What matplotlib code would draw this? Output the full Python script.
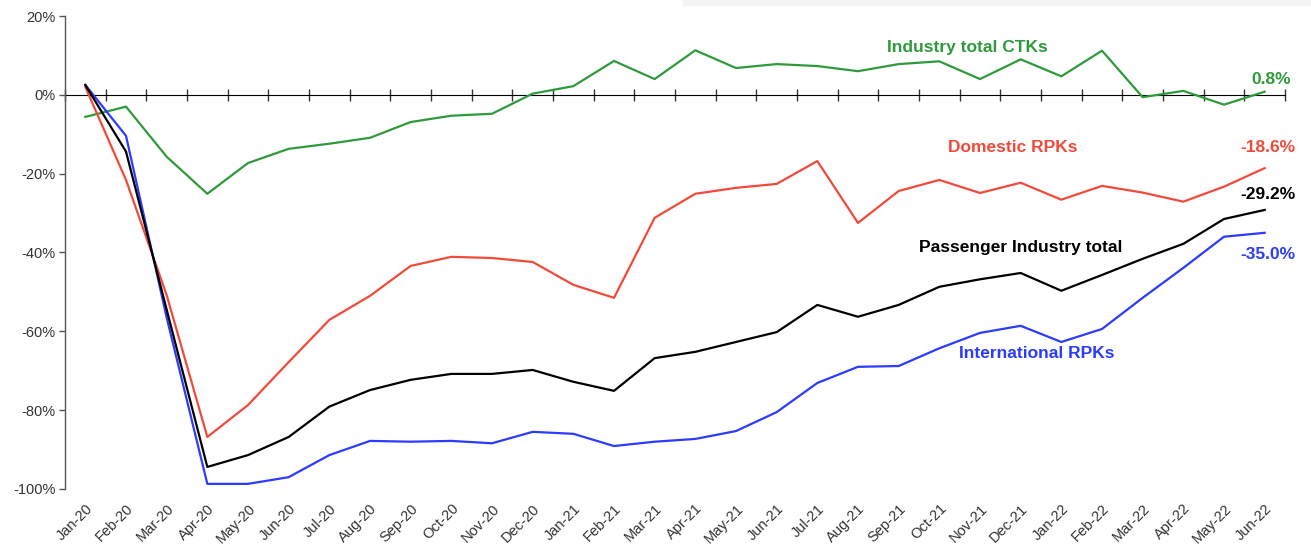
import matplotlib
matplotlib.use("Agg")
import matplotlib.pyplot as plt
from matplotlib.patches import Rectangle
import numpy as np

months = ["Jan-20", "Feb-20", "Mar-20", "Apr-20", "May-20", "Jun-20", "Jul-20", "Aug-20",
          "Sep-20", "Oct-20", "Nov-20", "Dec-20", "Jan-21", "Feb-21", "Mar-21", "Apr-21",
          "May-21", "Jun-21", "Jul-21", "Aug-21", "Sep-21", "Oct-21", "Nov-21", "Dec-21",
          "Jan-22", "Feb-22", "Mar-22", "Apr-22", "May-22", "Jun-22"]

ctk = [-5.6, -3.0, -15.7, -25.1, -17.3, -13.7, -12.4, -10.9, -6.9, -5.3, -4.8, 0.3,
       2.2, 8.6, 4.0, 11.3, 6.8, 7.8, 7.3, 6.0, 7.8, 8.5, 4.0, 9.0,
       4.7, 11.2, -0.6, 1.0, -2.5, 0.8]

domestic = [2.0, -21.6, -50.8, -86.8, -78.7, -67.8, -57.1, -51.0, -43.4, -41.1, -41.4, -42.4,
            -48.2, -51.5, -31.2, -25.1, -23.6, -22.6, -16.8, -32.5, -24.4, -21.6, -24.9, -22.3,
            -26.6, -23.1, -24.8, -27.1, -23.3, -18.6]

total = [2.5, -14.4, -54.5, -94.4, -91.4, -86.8, -79.1, -74.9, -72.3, -70.8, -70.8, -69.8,
         -72.8, -75.1, -66.8, -65.2, -62.7, -60.2, -53.3, -56.3, -53.3, -48.7, -46.8, -45.2,
         -49.7, -45.7, -41.6, -37.8, -31.5, -29.2]

international = [2.5, -10.4, -56.5, -98.7, -98.7, -97.0, -91.4, -87.8, -88.0, -87.8, -88.4, -85.5,
                 -86.0, -89.1, -88.0, -87.3, -85.3, -80.5, -73.1, -69.0, -68.8, -64.3, -60.4, -58.6,
                 -62.7, -59.4, -51.5, -43.9, -36.0, -35.0]

yticks = [20, 0, -20, -40, -60, -80, -100]
ytick_labels = ["20%", "0%", "-20%", "-40%", "-60%", "-80%", "-100%"]

GREEN = "#2f9a3b"
RED = "#f24a3a"
BLUE = "#2b3bff"
BLACK = "#000000"

plt.rcParams["font.family"] = ["Liberation Sans", "DejaVu Sans"]

fig = plt.figure(figsize=(13.11, 5.44), dpi=100)
fig.patches.append(Rectangle((683 / 1311, 1 - 5 / 544), 1 - 683 / 1311, 5 / 544,
                             transform=fig.transFigure, color="#f4f4f4", zorder=0))
ax = fig.add_axes([65 / 1311, 1 - 489 / 544, (1285 - 65) / 1311, (489 - 16) / 544])

x = np.arange(len(months))
lw = 1.6
ax.plot(x, ctk, color=GREEN, lw=lw, zorder=3)
ax.plot(x, domestic, color=RED, lw=lw, zorder=3)
ax.plot(x, international, color=BLUE, lw=lw, zorder=3)
ax.plot(x, total, color=BLACK, lw=lw, zorder=4)

ax.set_xlim(-0.5, len(months) - 0.5)
ax.set_ylim(-100, 20)

for s in ["top", "right", "bottom"]:
    ax.spines[s].set_visible(False)
ax.spines["left"].set_color("#555555")
ax.spines["left"].set_linewidth(1.0)

ax.set_yticks(yticks)
ax.set_yticklabels(ytick_labels)
ax.tick_params(axis="y", direction="out", length=4, width=1, color="#555555",
               labelsize=10.5, labelcolor="#333333", pad=3)

ax.set_xticks(x)
ax.set_xticklabels(months, rotation=45, ha="right", rotation_mode="anchor")
ax.tick_params(axis="x", length=0, labelsize=10.5, labelcolor="#333333", pad=9)

# zero axis line with category-boundary tick marks
sec = ax.secondary_xaxis(100 / 120)
sec.set_xticks(np.arange(len(months) + 1) - 0.5)
sec.set_xticklabels([])
sec.tick_params(axis="x", direction="inout", length=8, width=1, color="#333333")
sec.spines["bottom"].set_color("#333333")
sec.spines["bottom"].set_linewidth(1.0)

fw = "bold"
fs = 12.5
ax.text(21.7, 12.1, "Industry total CTKs", color=GREEN, fontsize=fs, fontweight=fw,
        ha="center", va="center")
ax.text(29.17, 4.0, "0.8%", color=GREEN, fontsize=fs, fontweight=fw, ha="center", va="center")
ax.text(22.8, -13.4, "Domestic RPKs", color=RED, fontsize=fs, fontweight=fw,
        ha="center", va="center")
ax.text(29.07, -13.4, "-18.6%", color=RED, fontsize=fs, fontweight=fw, ha="center", va="center")
ax.text(29.07, -25.4, "-29.2%", color=BLACK, fontsize=fs, fontweight=fw, ha="center", va="center")
ax.text(23.0, -38.8, "Passenger Industry total", color=BLACK, fontsize=fs, fontweight=fw,
        ha="center", va="center")
ax.text(29.07, -40.6, "-35.0%", color=BLUE, fontsize=fs, fontweight=fw, ha="center", va="center")
ax.text(23.4, -65.5, "International RPKs", color=BLUE, fontsize=fs, fontweight=fw,
        ha="center", va="center")

fig.savefig("out.png", dpi=100)
